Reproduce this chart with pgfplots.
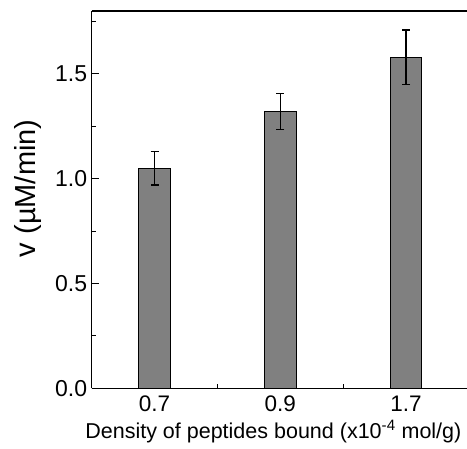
\documentclass[border=0pt]{standalone}
\usepackage{fontspec}
\setmainfont{Liberation Sans}
\usepackage{pgfplots}
\pgfplotsset{compat=1.18}

\begin{document}
\begin{tikzpicture}
\begin{axis}[
    scale only axis,
    width=375.3pt,
    height=377.3pt,
    ybar,
    bar width=31.7pt,
    xmin=-0.5, xmax=2.485,
    ymin=0, ymax=1.80,
    axis y line*=left,
    xtick={0,1,2},
    xticklabels={0.7,0.9,1.7},
    minor xtick={0.5,1.5},
    xtick pos=bottom,
    ytick={0,0.5,1.0,1.5},
    minor ytick={0.25,0.75,1.25,1.75},
    yticklabel style={/pgf/number format/fixed, /pgf/number format/fixed zerofill,
        /pgf/number format/precision=1, xshift=-1pt,
        font=\fontsize{23}{23}\selectfont},
    /pgf/number format/assume math mode=true,
    tick align=inside,
    major tick length=7pt,
    minor tick length=4pt,
    tick style={black, line width=0.8pt},
    axis line style={line width=1.2pt},
    xticklabel style={anchor=base, yshift=-23pt,
        font=\fontsize{22.5}{22.5}\selectfont},
    xlabel={Density of peptides bound (x10\textsuperscript{-4} mol/g)},
    xlabel style={font=\fontsize{21.5}{21.5}\selectfont,
        at={(axis description cs:0.484,0)}, anchor=base, yshift=-50pt},
    ylabel={v (µM/min)},
    ylabel style={font=\fontsize{29}{29}\selectfont,
        at={(axis description cs:-0.171,0.53)}, anchor=center},
]
\coordinate (O) at (rel axis cs:0,0);
\coordinate (T) at (rel axis cs:0,1);
\addplot[fill=gray, draw=black, line width=0.8pt,
    error bars/.cd, y dir=both, y explicit,
    error bar style={line width=1.3pt, black},
    error mark options={rotate=90, mark size=4pt, line width=1.3pt, black}]
coordinates {
    (0, 1.05) +- (0, 0.08)
    (1, 1.32) +- (0, 0.085)
    (2, 1.58) +- (0, 0.13)
};
\end{axis}
\pgfresetboundingbox
\useasboundingbox ([xshift=-91.7pt, yshift=-60.7pt]O) rectangle ([xshift=375.3pt, yshift=11pt]T);
\end{tikzpicture}
\end{document}
